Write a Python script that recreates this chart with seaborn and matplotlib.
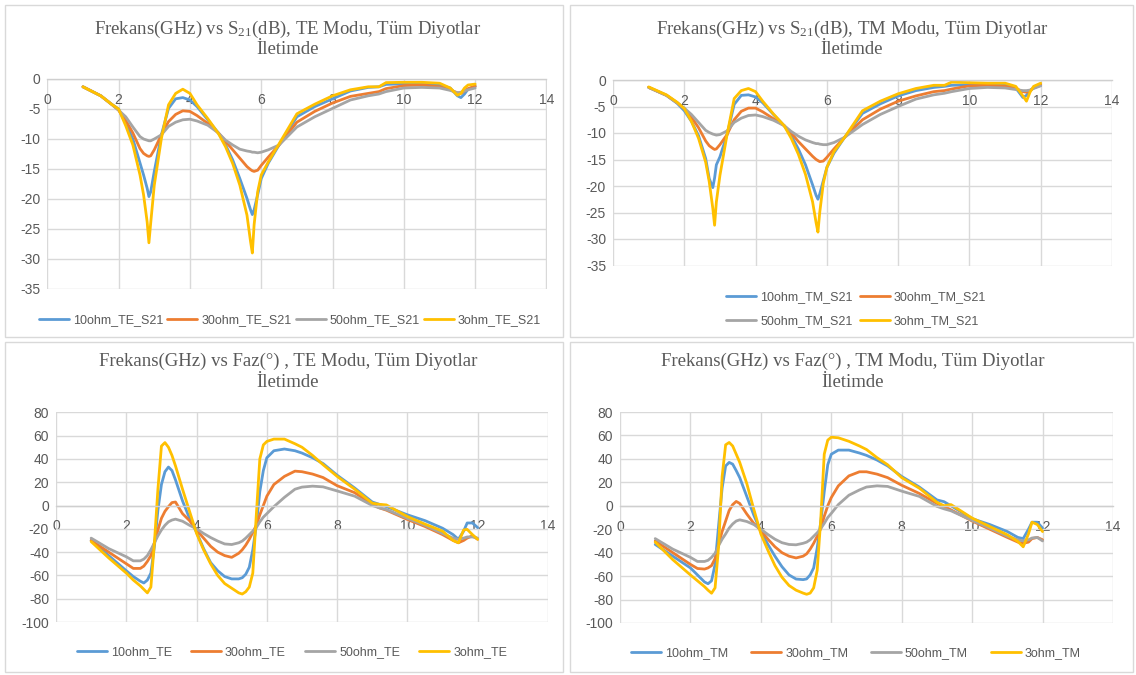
import matplotlib
matplotlib.use("Agg")
import matplotlib.pyplot as plt
import numpy as np
import pandas as pd
import seaborn as sns
from matplotlib.lines import Line2D
from matplotlib.patches import Rectangle

# ---------------- data ----------------
freq_s21 = [1.0, 1.5, 1.8, 2.0, 2.2, 2.4, 2.6, 2.7, 2.8, 2.85, 2.9, 3.0, 3.2, 3.4, 3.6, 3.8,
            4.0, 4.2, 4.5, 4.8, 5.0, 5.2, 5.4, 5.6, 5.7, 5.75, 5.8, 5.9, 6.0, 6.2, 6.5, 7.0,
            7.5, 8.0, 8.5, 9.0, 9.3, 9.5, 10.0, 10.5, 11.0, 11.3, 11.5, 11.6, 11.7, 11.8, 12.0]

te_s21_10 = [-1.3, -2.8, -4.2, -5.0, -7.4, -10.0, -14.0, -16.0, -18.2, -19.6, -18.8, -15.4, -9.3, -4.9, -3.3, -3.1,
             -3.5, -4.6, -6.8, -9.0, -11.0, -13.5, -16.6, -19.9, -21.8, -22.6, -21.8, -19.3, -16.6, -14.0, -11.0, -6.3,
             -4.6, -3.3, -2.0, -1.4, -1.3, -0.9, -0.8, -0.8, -1.0, -1.5, -2.8, -3.1, -2.5, -1.7, -1.2]
te_s21_30 = [-1.3, -2.8, -4.2, -5.2, -6.9, -9.0, -11.6, -12.4, -12.8, -12.9, -12.8, -11.8, -9.3, -7.1, -5.9, -5.3,
             -5.4, -6.1, -7.4, -9.0, -10.4, -11.8, -13.2, -14.6, -15.1, -15.3, -15.4, -15.2, -14.4, -13.0, -11.0, -7.2,
             -5.4, -4.0, -2.9, -2.4, -2.1, -1.6, -1.1, -1.0, -1.3, -1.8, -2.3, -2.4, -2.0, -1.6, -1.2]
te_s21_50 = [-1.3, -2.8, -4.2, -5.2, -6.3, -8.0, -9.6, -10.0, -10.2, -10.3, -10.3, -10.0, -9.3, -7.9, -7.2, -6.8,
             -6.7, -7.0, -7.7, -9.0, -10.2, -11.0, -11.7, -12.0, -12.1, -12.2, -12.2, -12.3, -12.2, -11.8, -11.0, -8.0,
             -6.3, -4.9, -3.5, -2.8, -2.5, -2.1, -1.5, -1.4, -1.5, -1.9, -2.3, -2.2, -2.0, -1.8, -1.5]
te_s21_3 = [-1.3, -2.8, -4.2, -5.0, -7.8, -11.0, -16.0, -19.3, -23.8, -27.3, -24.0, -17.7, -9.9, -4.3, -2.4, -1.7,
            -2.4, -4.3, -6.6, -9.1, -11.3, -14.1, -17.7, -22.7, -27.1, -29.0, -24.3, -18.8, -16.0, -13.8, -10.8, -5.8,
            -4.2, -2.8, -1.8, -1.3, -1.3, -0.6, -0.55, -0.55, -0.7, -1.5, -2.7, -2.4, -1.5, -1.0, -0.85]

tm_s21_10 = [-1.4, -2.9, -4.4, -5.8, -7.8, -10.5, -14.8, -18.6, -20.3, -18.5, -16.0, -14.5, -10.3, -4.6, -2.9, -2.8,
             -3.2, -4.3, -6.5, -8.6, -10.5, -13.0, -16.0, -19.8, -21.8, -22.5, -21.5, -19.0, -16.5, -13.8, -10.8, -6.3,
             -4.5, -3.0, -2.0, -1.4, -1.2, -1.0, -0.9, -0.9, -1.0, -1.5, -3.3, -2.9, -2.0, -1.5, -1.0]
tm_s21_30 = [-1.4, -2.9, -4.3, -5.4, -7.0, -9.0, -11.5, -12.4, -12.9, -13.1, -13.0, -12.2, -10.3, -7.5, -5.9, -5.3,
             -5.3, -6.0, -7.3, -8.6, -10.0, -11.6, -13.0, -14.4, -15.0, -15.2, -15.4, -15.3, -14.6, -13.0, -10.8, -7.5,
             -5.5, -4.0, -3.0, -2.2, -2.0, -1.7, -1.1, -1.0, -1.2, -1.6, -2.2, -2.3, -2.0, -1.5, -0.9]
tm_s21_50 = [-1.4, -2.9, -4.3, -5.3, -6.5, -8.0, -9.5, -9.9, -10.2, -10.3, -10.4, -10.3, -9.6, -8.0, -7.2, -6.7,
             -6.6, -6.9, -7.6, -8.6, -9.7, -10.6, -11.3, -11.8, -12.0, -12.0, -12.1, -12.2, -12.2, -11.8, -10.8, -8.4,
             -6.5, -5.0, -3.6, -2.8, -2.5, -2.2, -1.6, -1.4, -1.5, -1.8, -2.0, -2.0, -1.9, -1.6, -1.1]
tm_s21_3 = [-1.3, -2.8, -4.2, -5.4, -7.8, -11.0, -15.5, -19.2, -24.2, -27.4, -23.0, -18.0, -10.3, -3.5, -2.0, -1.6,
            -2.2, -4.0, -6.4, -8.6, -11.0, -14.0, -17.8, -23.0, -27.0, -28.7, -25.0, -19.5, -16.5, -13.5, -10.8, -5.8,
            -4.0, -2.6, -1.6, -1.0, -1.0, -0.4, -0.5, -0.6, -0.6, -1.2, -3.0, -4.0, -2.3, -1.2, -0.6]

freq_phase = [1.0, 1.5, 2.0, 2.2, 2.4, 2.5, 2.6, 2.7, 2.8, 2.9, 3.0, 3.1, 3.2, 3.3, 3.4, 3.6, 3.8, 4.0,
              4.2, 4.4, 4.6, 4.8, 5.0, 5.2, 5.3, 5.4, 5.5, 5.6, 5.7, 5.8, 5.9, 6.0, 6.2, 6.5, 6.8, 7.0,
              7.3, 7.6, 8.0, 8.5, 9.0, 9.2, 9.4, 10.0, 10.5, 11.0, 11.3, 11.45, 11.6, 11.7, 11.85, 12.0]

te_ph_10 = [-30, -43, -56, -61, -65, -66.5, -64, -58, -35, -4, 18, 29, 33, 30, 22, 4, -11, -23,
            -37, -49, -56, -61, -63, -63, -62, -59, -53, -38, -17, 12, 30, 41, 47, 48.5, 47, 45,
            41, 36, 26, 15, 3, 1, -1, -8, -13, -19.5, -25, -29, -22, -15, -15, -19]
te_ph_30 = [-30, -40, -50, -54, -54, -52, -48, -43, -32, -21, -11, -5, -1, 2.5, 3, -7, -13, -21,
            -28, -35, -40, -43, -44.5, -41, -38, -34, -29, -23, -17, -8, 0, 8, 18, 25, 29.5, 29,
            27, 24, 17, 11, 1, -2, -4, -12, -18, -25, -30, -32, -30, -28, -26, -29]
te_ph_50 = [-28, -37, -44, -47.5, -47.5, -46, -43, -38, -32, -26, -21, -17, -14, -12.5, -11.7, -13.5, -17, -20,
            -24, -27.5, -30.5, -33, -33.5, -32, -30.5, -28, -25, -22, -19, -14, -10, -7, -1, 7, 14, 15.8,
            16.6, 16, 12.5, 8, 0, -2, -3.5, -11, -17, -24, -28, -29, -28, -27, -27, -28]
te_ph_3 = [-31, -45, -58, -64, -69, -72, -75, -70, -32, 14, 51, 54, 50, 43, 34, 14, -5, -24,
           -38, -50, -60, -67, -71, -75, -76, -74, -70, -58, -8, 40, 52, 55, 57, 57, 53, 50,
           43, 35, 25, 14, 2, 1, 0.5, -9.5, -16, -22, -30, -32, -21, -20.5, -25, -29]

tm_ph_10 = [-33, -43, -53, -59, -65, -66.5, -64, -50, -17, 15, 34, 37, 35.5, 30, 24, 8, -8, -22,
            -33, -43, -52, -59, -62.5, -63, -62.4, -59, -53, -36, -14, 12, 35, 44, 47.5, 47.5, 45, 43,
            39, 34, 25, 16, 5, 3.5, 0, -11, -16, -22, -27, -28, -20, -14, -14, -19]
tm_ph_30 = [-30, -40, -50, -53.5, -54, -53, -51, -45, -33, -22, -13, -4, 1, 3.7, 2, -7, -15, -21,
            -28.5, -35, -40, -43, -44.5, -43, -41, -37, -32, -26, -19.5, -9, 0, 7, 17, 25.5, 29, 29,
            27, 24, 17.5, 10.5, 2, -0.5, -3.5, -13, -20, -27, -31, -32, -31, -28, -27, -29]
tm_ph_50 = [-28, -37, -44, -47.5, -47.5, -46.5, -44, -40.5, -34, -28.5, -24, -19, -15.5, -13, -12, -13.4, -16, -20,
            -24.5, -28.5, -31.5, -33, -33.3, -32, -31, -29, -26, -23, -19.5, -15, -10, -6.5, 1, 9, 13.5, 16,
            17, 16.5, 12.5, 8, -0.5, -2.6, -4.3, -12.5, -19, -26, -29, -30, -29, -27.5, -27, -30]
tm_ph_3 = [-31, -46, -59, -64, -69, -72, -74.6, -70, -35, 25, 52, 54, 51, 44, 37, 19, -3, -24,
           -38, -51, -61, -68, -72, -74.5, -75.5, -74.5, -70, -55, -12, 44, 56, 58.5, 58, 55, 51, 48,
           41, 35, 24, 15, 3, 0, 1, -10.5, -17.7, -24.8, -30.5, -35, -24, -14, -16, -22]

x_ticks = [0, 2, 4, 6, 8, 10, 12, 14]
s21_ticks = [0, -5, -10, -15, -20, -25, -30, -35]
phase_ticks = [80, 60, 40, 20, 0, -20, -40, -60, -80, -100]

colors = ["#5B9BD5", "#ED7D31", "#A5A5A5", "#FFC000"]

# ---------------- style ----------------
sns.set_theme(style="white")
plt.rcParams["font.family"] = ["Liberation Sans", "DejaVu Sans"]
plt.rcParams["axes.unicode_minus"] = False
plt.rcParams["mathtext.fontset"] = "custom"
plt.rcParams["mathtext.rm"] = "Liberation Serif"

W, H = 1136, 675
TXT = "#595959"
GRID = "#d9d9d9"

fig = plt.figure(figsize=(W / 100, H / 100), dpi=100)
fig.patch.set_facecolor("white")


def frect(x0, y0, x1, y1):
    return [x0 / W, 1 - y1 / H, (x1 - x0) / W, (y1 - y0) / H]


# panel borders
for (x0, y0, x1, y1) in [(5, 5, 563, 337), (570, 5, 1133, 337), (5, 342, 563, 672), (570, 342, 1133, 672)]:
    fig.add_artist(Rectangle((x0 / W, 1 - y1 / H), (x1 - x0) / W, (y1 - y0) / H,
                             transform=fig.transFigure, fill=False, edgecolor=GRID, lw=1.0))

panels = [
    dict(rect=(47.3, 79, 546.5, 289), freq=freq_s21,
         series=[te_s21_10, te_s21_30, te_s21_50, te_s21_3],
         labels=["10ohm_TE_S21", "30ohm_TE_S21", "50ohm_TE_S21", "3ohm_TE_S21"],
         ylim=(-35, 0), yticks=s21_ticks,
         title="Frekans(GHz) vs S$\\mathregular{_{21}}$(dB), TE Modu, Tüm Diyotlar",
         tx=288, ty1=29, ty2=49, leg=dict(x=290, y=320, ncol=4, order=[0, 1, 2, 3], colsp=0.35)),
    dict(rect=(613, 80, 1112, 265.5), freq=freq_s21,
         series=[tm_s21_10, tm_s21_30, tm_s21_50, tm_s21_3],
         labels=["10ohm_TM_S21", "30ohm_TM_S21", "50ohm_TM_S21", "3ohm_TM_S21"],
         ylim=(-35, 0), yticks=s21_ticks,
         title="Frekans(GHz) vs S$\\mathregular{_{21}}$(dB), TM Modu, Tüm Diyotlar",
         tx=852, ty1=29, ty2=50, leg=dict(x=856, y=309, ncol=2, order=[0, 2, 1, 3], colsp=0.55)),
    dict(rect=(56, 412.3, 548, 622), freq=freq_phase,
         series=[te_ph_10, te_ph_30, te_ph_50, te_ph_3],
         labels=["10ohm_TE", "30ohm_TE", "50ohm_TE", "3ohm_TE"],
         ylim=(-100, 80), yticks=phase_ticks,
         title="Frekans(GHz) vs Faz(°) , TE Modu, Tüm Diyotlar",
         tx=288, ty1=361, ty2=383, leg=dict(x=292, y=652, ncol=4, order=[0, 1, 2, 3], colsp=1.56)),
    dict(rect=(620, 412, 1113, 623), freq=freq_phase,
         series=[tm_ph_10, tm_ph_30, tm_ph_50, tm_ph_3],
         labels=["10ohm_TM", "30ohm_TM", "50ohm_TM", "3ohm_TM"],
         ylim=(-100, 80), yticks=phase_ticks,
         title="Frekans(GHz) vs Faz(°) , TM Modu, Tüm Diyotlar",
         tx=853, ty1=361, ty2=383, leg=dict(x=856, y=653, ncol=4, order=[0, 1, 2, 3], colsp=1.84)),
]

for p in panels:
    ax = fig.add_axes(frect(*p["rect"]))
    frames = []
    for lab, vals in zip(p["labels"], p["series"]):
        frames.append(pd.DataFrame({"freq": p["freq"], "value": vals, "series": lab}))
    df = pd.concat(frames, ignore_index=True)
    sns.lineplot(data=df, x="freq", y="value", hue="series", hue_order=p["labels"],
                 palette=colors, linewidth=2.0, errorbar=None, legend=False, ax=ax)
    ax.set_xlim(0, 14)
    ax.set_ylim(*p["ylim"])
    ax.set_xticks(x_ticks)
    ax.set_yticks(p["yticks"])
    ax.set_xticklabels([str(t) for t in x_ticks])
    ax.set_yticklabels([str(t) for t in p["yticks"]])
    ax.set_xlabel("")
    ax.set_ylabel("")
    ax.grid(True, color=GRID, lw=1.0)
    ax.set_axisbelow(True)
    for s in ["top", "left", "right"]:
        ax.spines[s].set_visible(False)
    ax.spines["bottom"].set_position(("data", 0))
    ax.spines["bottom"].set_color("#cfcfcf")
    ax.spines["bottom"].set_linewidth(1.0)
    ax.tick_params(axis="x", length=0, pad=10, labelsize=10, labelcolor=TXT)
    ax.tick_params(axis="y", length=0, pad=5, labelsize=10, labelcolor=TXT)
    ax.set_facecolor("none")

    fig.text(p["tx"] / W, 1 - p["ty1"] / H, p["title"], ha="center", va="center",
             fontsize=13.5, color=TXT, family=["Liberation Serif", "DejaVu Serif"])
    fig.text(p["tx"] / W, 1 - p["ty2"] / H, "İletimde", ha="center", va="center",
             fontsize=13.5, color=TXT, family=["Liberation Serif", "DejaVu Serif"])

    lg = p["leg"]
    handles = [Line2D([0], [0], color=colors[i], lw=2.0) for i in lg["order"]]
    labels = [p["labels"][i] for i in lg["order"]]
    leg = ax.legend(handles, labels, loc="center", bbox_to_anchor=(lg["x"] / W, 1 - lg["y"] / H),
                    bbox_transform=fig.transFigure, ncol=lg["ncol"], frameon=False,
                    fontsize=9, handlelength=2.4, handletextpad=0.3,
                    columnspacing=lg["colsp"], labelspacing=0.95, borderpad=0)
    for t in leg.get_texts():
        t.set_color(TXT)

fig.savefig("out.png", dpi=100, facecolor="white")
